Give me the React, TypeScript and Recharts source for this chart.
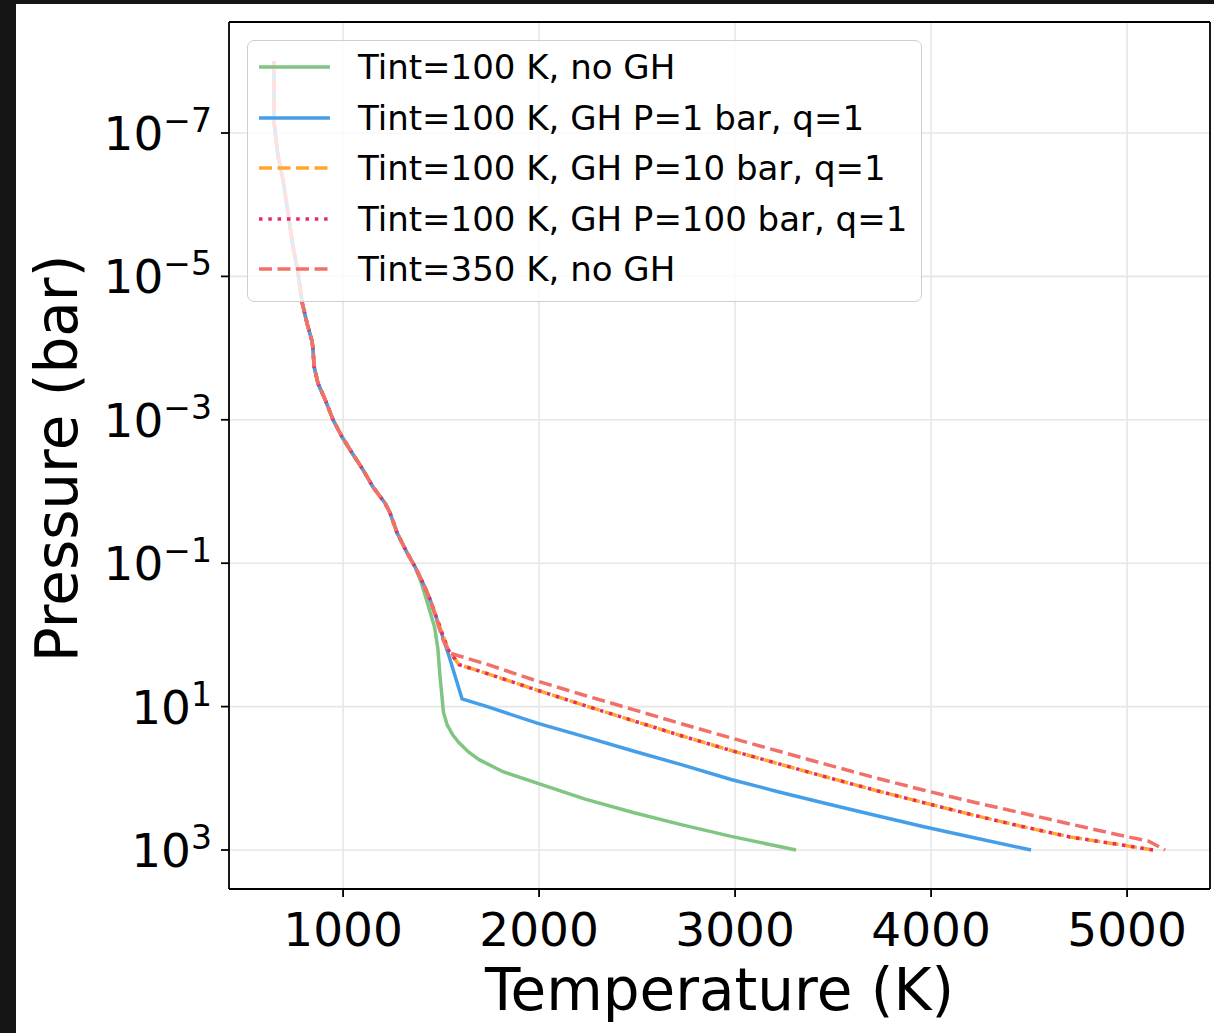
import React from 'react';
import { LineChart, Line, XAxis, YAxis, CartesianGrid, Legend, ReferenceLine } from 'recharts';

// ---- data (temperature in K, pressure in bar) ----
// common upper atmosphere profile shared by all runs
const sharedT = [648, 648, 668, 694, 719, 745, 770, 791, 816, 842, 847, 852, 872, 908, 949, 995, 1046, 1102, 1153, 1214, 1240, 1276, 1327, 1367];
const sharedP = [1.0e-8, 7.2e-8, 2.1e-7, 4.6e-7, 1.3e-6, 3.9e-6, 8.9e-6, 2.3e-5, 4.5e-5, 8.1e-5, 1.07e-4, 1.8e-4, 3.1e-4, 5.2e-4, 1.0e-3, 1.74e-3, 2.9e-3, 5.0e-3, 8.7e-3, 1.45e-2, 2.0e-2, 3.8e-2, 7.2e-2, 0.112];

// deep parts of each profile
const noGH100T = [1400, 1433, 1467, 1484, 1495, 1503, 1512, 1531, 1560, 1592, 1640, 1694, 1816, 1990, 2235, 2485, 2730, 2980, 3311];
const noGH100P = [0.19, 0.38, 0.78, 1.6, 3.9, 6.5, 12, 18, 25, 32, 43, 55, 81, 117, 195, 302, 447, 646, 1000];

const gh1T = [1408, 1444, 1480, 1541, 1607, 1740, 1990, 2235, 2485, 2730, 2980, 3224, 3474, 3719, 3969, 4214, 4510];
const gh1P = [0.19, 0.32, 0.62, 2.0, 7.8, 10.1, 17, 26.5, 42, 65, 104, 155, 228, 330, 478, 670, 1000];

const gh10T = [1408, 1444, 1490, 1536, 1592, 1740, 1990, 2235, 2485, 2730, 2980, 3224, 3474, 3719, 3969, 4214, 4464, 4709, 4959, 5133];
const gh10P = [0.19, 0.32, 0.72, 1.6, 2.6, 3.5, 5.9, 9.7, 15.9, 25.7, 41, 63, 97.5, 148, 221, 325, 470, 659, 838, 1000];

const gh100T = [1408, 1444, 1490, 1536, 1592, 1740, 1990, 2235, 2485, 2730, 2980, 3224, 3474, 3719, 3969, 4214, 4464, 4709, 4959, 5133];
const gh100P = [0.19, 0.32, 0.72, 1.6, 2.6, 3.5, 5.9, 9.7, 15.9, 25.7, 41, 63, 97.5, 148, 221, 325, 470, 659, 838, 1000];

const noGH350T = [1408, 1444, 1510, 1546, 1740, 1990, 2235, 2485, 2730, 2980, 3224, 3474, 3719, 3969, 4214, 4464, 4709, 4959, 5107, 5194];
const noGH350P = [0.19, 0.32, 1.18, 1.8, 2.6, 4.4, 7.0, 11.1, 17.5, 27.4, 42, 65, 99, 148, 214, 305, 434, 618, 750, 1000];

const seriesNames = [
  'Tint=100 K, no GH',
  'Tint=100 K, GH P=1 bar, q=1',
  'Tint=100 K, GH P=10 bar, q=1',
  'Tint=100 K, GH P=100 bar, q=1',
  'Tint=350 K, no GH',
];
const seriesColors = ['#80c582', '#449fe8', '#ffa82e', '#ea2a62', '#f2706a'];
const seriesDash = ['', '', '13 5.5', '3.5 5.8', '13 5.5'];

const xTicks = [1000, 2000, 3000, 4000, 5000];
const yTicks = [1e-7, 1e-5, 1e-3, 1e-1, 1e1, 1e3];

const xDomain = [418, 5423];
const yDomain = [Math.pow(10, -8.548), Math.pow(10, 3.544)];

const build = (T: number[], P: number[]) => T.map((t, i) => ({ T: t, P: P[i] }));
const seriesData = [
  build(sharedT.concat(noGH100T), sharedP.concat(noGH100P)),
  build(sharedT.concat(gh1T), sharedP.concat(gh1P)),
  build(sharedT.concat(gh10T), sharedP.concat(gh10P)),
  build(sharedT.concat(gh100T), sharedP.concat(gh100P)),
  build(sharedT.concat(noGH350T), sharedP.concat(noGH350P)),
];

const FONT = '"DejaVu Sans", sans-serif';

const YTick = (props: any) => {
  const { x, y, payload } = props;
  const e = Math.round(Math.log10(payload.value));
  const exp = e < 0 ? '\u2212' + Math.abs(e) : String(e);
  return (
    <text x={x} y={y} textAnchor="end" fontFamily={FONT} fill="#000">
      <tspan fontSize={47} dy={17}>10</tspan>
      <tspan fontSize={33} dy={-18}>{exp}</tspan>
    </text>
  );
};

const XTick = (props: any) => {
  const { x, y, payload } = props;
  return (
    <text x={x} y={y} dy={49} textAnchor="middle" fontFamily={FONT} fontSize={47} fill="#000">
      {payload.value}
    </text>
  );
};

const XLabel = (props: any) => {
  const vb = props.viewBox || { x: 229, width: 981 };
  return (
    <text x={vb.x + vb.width / 2} y={1010} textAnchor="middle" fontFamily={FONT} fontSize={58} fill="#000">
      Temperature (K)
    </text>
  );
};

const YLabel = (props: any) => {
  const vb = props.viewBox || { y: 22, height: 867 };
  const cy = vb.y + vb.height / 2 + 3;
  return (
    <text x={77} y={cy} transform={`rotate(-90, 77, ${cy})`} textAnchor="middle" fontFamily={FONT} fontSize={58} fill="#000">
      Pressure (bar)
    </text>
  );
};

const LegendBox = () => (
  <div
    style={{
      position: 'relative',
      width: 675,
      height: 262,
      boxSizing: 'border-box',
      border: '1.5px solid #cfcfcf',
      borderRadius: 7,
      background: 'rgba(255,255,255,0.8)',
      fontFamily: FONT,
      fontSize: 34,
      color: '#000',
    }}
  >
    {seriesNames.map((name, i) => (
      <div
        key={name}
        style={{
          position: 'absolute',
          left: 0,
          top: 26 + i * 50.5 - 20,
          height: 40,
          display: 'flex',
          alignItems: 'center',
          whiteSpace: 'nowrap',
        }}
      >
        <svg width={110} height={40} style={{ display: 'block' }}>
          <line
            x1={11}
            x2={82}
            y1={20}
            y2={20}
            stroke={seriesColors[i]}
            strokeWidth={3.5}
            strokeDasharray={seriesDash[i] || undefined}
          />
        </svg>
        <span style={{ lineHeight: '40px' }}>{name}</span>
      </div>
    ))}
  </div>
);

export default function App() {
  return (
    <div style={{ position: 'absolute', left: 0, top: 0, width: 1214, height: 1033, background: '#151515', overflow: 'hidden' }}>
      <div style={{ position: 'absolute', left: 16, top: 4, width: 1198, height: 1029, background: '#ffffff' }} />
      <div style={{ position: 'absolute', left: 0, top: 0 }}>
        <LineChart width={1214} height={1033} margin={{ top: 22, right: 4, bottom: 84, left: 0 }}>
          <CartesianGrid stroke="#e6e6e6" strokeWidth={1.6} />
          <XAxis
            dataKey="T"
            type="number"
            domain={xDomain}
            allowDataOverflow
            ticks={xTicks}
            height={60}
            tickSize={8}
            tickMargin={0}
            tick={<XTick />}
            tickLine={{ stroke: '#000', strokeWidth: 1.8 }}
            axisLine={{ stroke: '#000', strokeWidth: 1.8 }}
            label={{ content: (p: any) => <XLabel {...p} /> }}
          />
          <YAxis
            dataKey="P"
            type="number"
            scale="log"
            domain={yDomain}
            allowDataOverflow
            reversed
            ticks={yTicks}
            width={229}
            tickSize={8}
            tickMargin={9}
            tick={<YTick />}
            tickLine={{ stroke: '#000', strokeWidth: 1.8 }}
            axisLine={{ stroke: '#000', strokeWidth: 1.8 }}
            label={{ content: (p: any) => <YLabel {...p} /> }}
          />
          {seriesData.map((d, i) => (
            <Line
              key={seriesNames[i]}
              data={d}
              dataKey="P"
              name={seriesNames[i]}
              type="linear"
              stroke={seriesColors[i]}
              strokeWidth={3.5}
              strokeDasharray={seriesDash[i] || undefined}
              dot={false}
              activeDot={false}
              isAnimationActive={false}
            />
          ))}
          <ReferenceLine y={yDomain[0]} stroke="#000" strokeWidth={1.8} ifOverflow="visible" />
          <ReferenceLine x={xDomain[1]} stroke="#000" strokeWidth={1.8} ifOverflow="visible" />
          <Legend
            layout="vertical"
            align="center"
            verticalAlign="middle"
            content={() => <LegendBox />}
            wrapperStyle={{ position: 'absolute', left: 247, top: 40, width: 675, height: 262, margin: 0, padding: 0 }}
          />
        </LineChart>
      </div>
    </div>
  );
}
